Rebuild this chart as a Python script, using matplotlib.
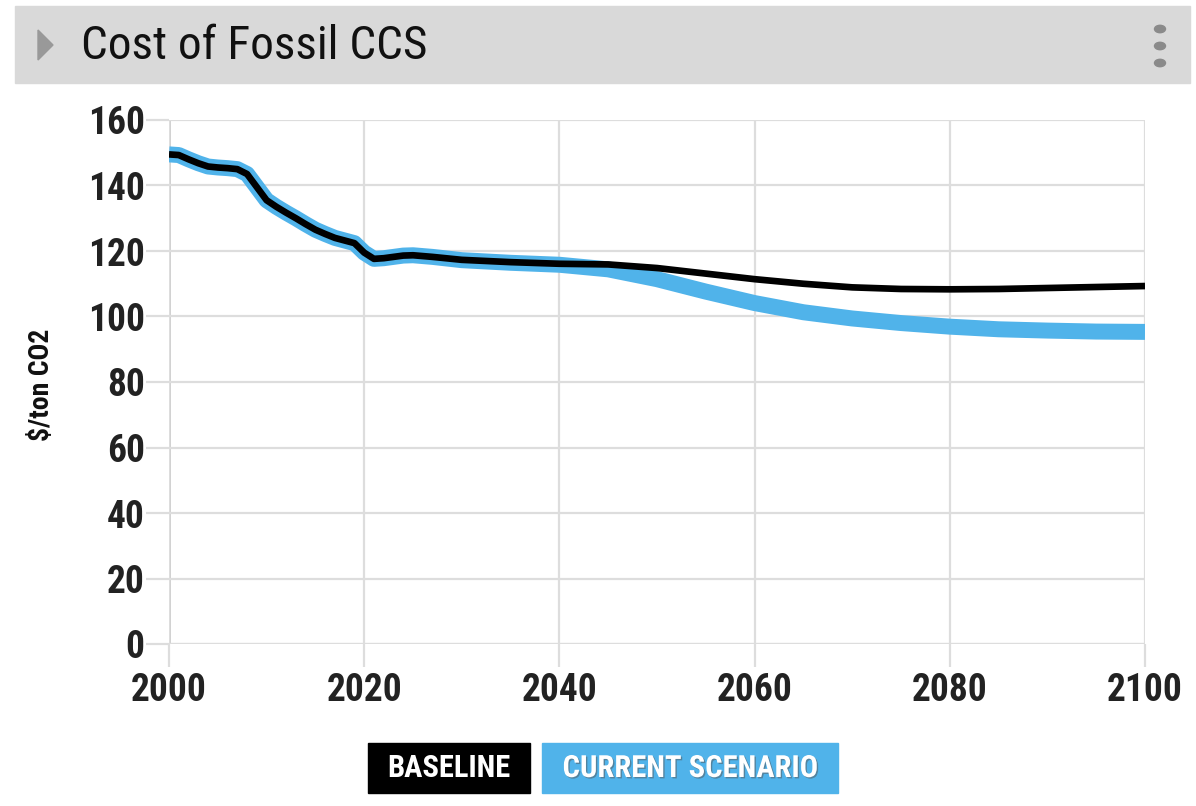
import matplotlib
matplotlib.use("Agg")
import matplotlib.pyplot as plt
from matplotlib import font_manager
from matplotlib.patches import Rectangle, Polygon, Circle
import matplotlib.patheffects as pe

# pick a narrow font if one is around
names = {f.name for f in font_manager.fontManager.ttflist}
narrow = "DejaVu Sans"
stretch = "condensed"
for cand in ["Roboto Condensed", "Liberation Sans Narrow"]:
    if cand in names:
        narrow = cand
        stretch = "normal"
        break

years = [2000, 2001, 2002, 2003, 2004, 2005, 2006, 2007, 2008, 2009, 2010,
         2011, 2012, 2013, 2014, 2015, 2016, 2017, 2018, 2019, 2020, 2021,
         2022, 2023, 2024, 2025, 2027, 2030, 2035, 2040, 2045, 2050, 2055,
         2060, 2065, 2070, 2075, 2080, 2085, 2090, 2095, 2100]
baseline = [149.5, 149.3, 148.0, 146.8, 145.8, 145.5, 145.3, 145.0, 143.5, 139.5, 135.5,
            133.5, 131.7, 130.0, 128.2, 126.5, 125.2, 124.0, 123.2, 122.4, 119.5, 117.6,
            117.8, 118.2, 118.6, 118.7, 118.2, 117.3, 116.6, 116.1, 115.9, 114.8, 113.1,
            111.4, 110.0, 108.9, 108.4, 108.3, 108.4, 108.7, 109.0, 109.3]
current = [149.5, 149.3, 148.0, 146.8, 145.8, 145.5, 145.3, 145.0, 143.5, 139.5, 135.5,
           133.5, 131.7, 130.0, 128.2, 126.5, 125.2, 124.0, 123.2, 122.4, 119.5, 117.6,
           117.8, 118.2, 118.6, 118.7, 118.2, 117.2, 116.4, 115.8, 114.4, 111.4, 107.6,
           104.1, 101.3, 99.4, 98.0, 96.9, 96.1, 95.7, 95.4, 95.3]

xticks = [2000, 2020, 2040, 2060, 2080, 2100]
yticks = [0, 20, 40, 60, 80, 100, 120, 140, 160]

BLUE = "#50b3ea"

W, H = 1196, 806
fig = plt.figure(figsize=(W / 100, H / 100), dpi=100)

# header bar
fig.patches.append(Rectangle((15 / W, 1 - 83 / H), 1175 / W, 77 / H,
                             transform=fig.transFigure, color="#d9d9d9", zorder=0))
fig.patches.append(Polygon([(38 / W, 1 - 30 / H), (38 / W, 1 - 60 / H), (53 / W, 1 - 45 / H)],
                           closed=True, transform=fig.transFigure, color="#999999"))
for cy in [29, 46, 63]:
    fig.patches.append(Circle((1160 / W, 1 - cy / H), 5.5 / W, transform=fig.transFigure,
                              color="#8a8a8a"))
fig.text(81 / W, 1 - 46 / H, "Cost of Fossil CCS", fontsize=34, family=narrow,
         fontstretch=stretch, color="#111111", va="center", ha="left")

ax = fig.add_axes([169 / W, 1 - 644 / H, (1145 - 169) / W, (644 - 120) / H])
ax.plot(years, current, color=BLUE, lw=11.5, solid_capstyle="butt",
        solid_joinstyle="round", zorder=3)
ax.plot(years, baseline, color="black", lw=4.8, solid_capstyle="butt",
        solid_joinstyle="round", zorder=4)

ax.set_xlim(2000, 2100)
ax.set_ylim(0, 160)
ax.set_xticks(xticks)
ax.set_yticks(yticks)
ax.grid(True, color="#dddddd", lw=1.6, zorder=0)
ax.axhline(0, color="#aaaaaa", lw=2.2, zorder=1)
ax.axvline(2000, color="#cccccc", lw=2, zorder=1)
for s in ax.spines.values():
    s.set_visible(False)
ax.tick_params(axis="both", length=16.5, width=1.6, color="#dddddd", labelcolor="#222222")
ax.tick_params(axis="y", pad=1)
ax.tick_params(axis="x", pad=4)
for lab in ax.get_xticklabels() + ax.get_yticklabels():
    lab.set_fontsize(27)
    lab.set_fontweight("bold")
    lab.set_family(narrow)
    lab.set_fontstretch(stretch)

fig.text(41 / W, 1 - 385 / H, r"\$/ton CO2", rotation=90, fontsize=20, fontweight="bold",
         family=narrow, fontstretch=stretch, color="#111111", ha="center", va="center")

# legend buttons
fig.patches.append(Rectangle((368 / W, 1 - 793 / H), 162 / W, 50 / H,
                             transform=fig.transFigure, color="black"))
fig.patches.append(Rectangle((542 / W, 1 - 793 / H), 296 / W, 50 / H,
                             transform=fig.transFigure, color=BLUE))
fig.text(449 / W, 1 - 768 / H, "BASELINE", fontsize=22, fontweight="bold", family=narrow,
         fontstretch=stretch, color="white", ha="center", va="center")
fig.text(690 / W, 1 - 768 / H, "CURRENT SCENARIO", fontsize=22, fontweight="bold",
         family=narrow, fontstretch=stretch, color="white", ha="center", va="center",
         path_effects=[pe.withSimplePatchShadow(offset=(1, -1), shadow_rgbFace="#555555",
                                                alpha=0.5)])

fig.savefig("out.png", dpi=100)
